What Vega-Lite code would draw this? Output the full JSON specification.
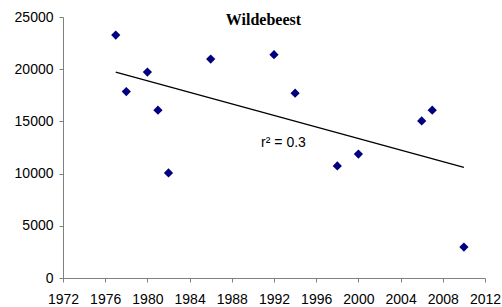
{
  "$schema": "https://vega.github.io/schema/vega-lite/v6.json",
  "width": 422,
  "height": 261,
  "autosize": "none",
  "padding": {"left": 63, "top": 17, "right": 17, "bottom": 29},
  "background": "white",
  "config": {"view": {"stroke": null}, "font": "Liberation Sans"},
  "datasets": {
    "obs": [
      {"year": 1977, "count": 23270},
      {"year": 1978, "count": 17860},
      {"year": 1980, "count": 19730},
      {"year": 1981, "count": 16075},
      {"year": 1982, "count": 10060},
      {"year": 1986, "count": 20975},
      {"year": 1992, "count": 21390},
      {"year": 1994, "count": 17700},
      {"year": 1998, "count": 10730},
      {"year": 2000, "count": 11870},
      {"year": 2006, "count": 15050},
      {"year": 2007, "count": 16075},
      {"year": 2010, "count": 2960}
    ],
    "notes": [
      {"year": 1992.9, "count": 12900, "label": "r² = 0.3", "kind": "r2"},
      {"year": 1991, "count": 24190, "label": "Wildebeest", "kind": "title"}
    ]
  },
  "layer": [
    {
      "data": {"name": "obs"},
      "transform": [{"regression": "count", "on": "year", "method": "linear"}],
      "mark": {"type": "line", "color": "black", "strokeWidth": 1.3},
      "encoding": {
        "x": {"field": "year", "type": "quantitative"},
        "y": {"field": "count", "type": "quantitative"}
      }
    },
    {
      "data": {"name": "obs"},
      "mark": {"type": "point", "shape": "diamond", "filled": true, "color": "#000080", "size": 85, "opacity": 1},
      "encoding": {
        "x": {
          "field": "year", "type": "quantitative",
          "scale": {"domain": [1972, 2012], "nice": false, "zero": false},
          "axis": {
            "title": null, "values": [1972,1976,1980,1984,1988,1992,1996,2000,2004,2008,2012],
            "format": "d", "grid": false, "domainColor": "#808080", "tickColor": "#808080",
            "tickSize": 4, "labelPadding": 10, "labelFontSize": 14, "labelColor": "black",
            "labelFont": "Liberation Sans", "labelFlush": false
          }
        },
        "y": {
          "field": "count", "type": "quantitative",
          "scale": {"domain": [0, 25000], "nice": false},
          "axis": {
            "title": null, "values": [0,5000,10000,15000,20000,25000],
            "format": "d", "grid": false, "domainColor": "#808080", "tickColor": "#808080",
            "tickSize": 4, "labelPadding": 6, "labelFontSize": 14, "labelColor": "black",
            "labelFont": "Liberation Sans", "labelFlush": false
          }
        }
      }
    },
    {
      "data": {"name": "notes"},
      "transform": [{"filter": "datum.kind === 'r2'"}],
      "mark": {"type": "text", "font": "Liberation Sans", "fontSize": 14, "color": "black", "align": "center", "baseline": "middle"},
      "encoding": {
        "x": {"field": "year", "type": "quantitative"},
        "y": {"field": "count", "type": "quantitative"},
        "text": {"field": "label"}
      }
    },
    {
      "data": {"name": "notes"},
      "transform": [{"filter": "datum.kind === 'title'"}],
      "mark": {"type": "text", "font": "Liberation Serif", "fontSize": 16, "fontWeight": "bold", "color": "black", "align": "center", "baseline": "alphabetic"},
      "encoding": {
        "x": {"field": "year", "type": "quantitative"},
        "y": {"field": "count", "type": "quantitative"},
        "text": {"field": "label"}
      }
    }
  ]
}
